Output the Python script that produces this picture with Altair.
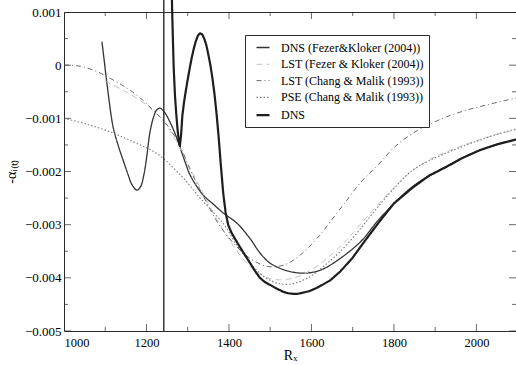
import altair as alt
import pandas as pd

SERIES = [
    "DNS (Fezer&Kloker (2004))",
    "LST (Fezer & Kloker (2004))",
    "LST (Chang & Malik (1993))",
    "PSE (Chang & Malik (1993))",
    "DNS",
]

# R_x positions and -alpha_i values (in units of 1e-3)
dns_fk_r = [1092, 1097, 1105, 1119, 1131, 1143, 1155, 1165, 1177, 1186, 1194, 1201, 1208, 1217,
            1225, 1233, 1245, 1257, 1270, 1281, 1295, 1306, 1337, 1360, 1386, 1419, 1450, 1475,
            1499, 1530, 1560, 1590, 1620, 1650, 1718, 1766, 1846, 1928, 2008, 2096]
dns_fk_v = [0.44, 0.12, -0.4, -1.16, -1.5, -1.78, -2.05, -2.25, -2.35, -2.28, -2.05, -1.7, -1.28, -0.98,
            -0.84, -0.81, -0.9, -1.07, -1.3, -1.54, -1.85, -2.07, -2.44, -2.6, -2.78, -2.97, -3.25, -3.53,
            -3.72, -3.84, -3.9, -3.91, -3.86, -3.74, -3.33, -2.88, -2.28, -1.9, -1.6, -1.39]

lst_fk_r = [1100, 1150, 1200, 1240, 1270, 1300, 1330, 1360, 1390, 1420, 1450, 1480, 1510, 1540,
            1570, 1600, 1640, 1680, 1720, 1766, 1800, 1846, 1890, 1928, 1970, 2008, 2050, 2096]
lst_fk_v = [-0.3, -0.5, -0.75, -1.05, -1.4, -1.85, -2.3, -2.75, -3.15, -3.5, -3.78, -3.95, -4.03, -4.03,
            -3.97, -3.85, -3.62, -3.33, -2.98, -2.58, -2.3, -1.98, -1.76, -1.63, -1.5, -1.4, -1.3, -1.22]

lst_cm_r = [1000, 1040, 1080, 1110, 1140, 1160, 1190, 1210, 1235, 1257, 1280, 1305, 1325, 1347,
            1370, 1400, 1430, 1460, 1490, 1515, 1540, 1565, 1590, 1620, 1645, 1680, 1720, 1766,
            1800, 1846, 1890, 1928, 1970, 2008, 2050, 2096]
lst_cm_v = [0.0, -0.02, -0.12, -0.24, -0.37, -0.47, -0.65, -0.8, -0.99, -1.2, -1.5, -1.95, -2.27, -2.6,
            -2.93, -3.25, -3.5, -3.68, -3.78, -3.79, -3.74, -3.62, -3.45, -3.2, -2.95, -2.6, -2.2, -1.84,
            -1.55, -1.28, -1.1, -0.97, -0.86, -0.78, -0.7, -0.62]

pse_cm_r = [1000, 1060, 1120, 1170, 1225, 1289, 1330, 1360, 1390, 1420, 1445, 1470, 1500, 1530,
            1560, 1596, 1630, 1660, 1700, 1735, 1766, 1800, 1846, 1890, 1928, 1970, 2008, 2050, 2096]
pse_cm_v = [-1.0, -1.12, -1.28, -1.45, -1.66, -2.12, -2.5, -2.75, -3.02, -3.4, -3.65, -3.88, -4.05, -4.12,
            -4.1, -3.98, -3.78, -3.58, -3.25, -2.92, -2.62, -2.32, -1.97, -1.78, -1.65, -1.52, -1.41, -1.3, -1.2]

dns_r = [1261, 1262, 1264, 1266, 1269, 1272, 1275, 1278, 1281, 1284, 1287, 1291, 1295,
         1300, 1305, 1310, 1315, 1320, 1325, 1330, 1335, 1340, 1345, 1350, 1355, 1360, 1365, 1370,
         1375, 1380, 1386, 1392, 1398, 1406, 1415, 1425, 1437, 1451, 1463, 1475, 1487, 1499, 1515,
         1531, 1543, 1555, 1567, 1579, 1595, 1610, 1627, 1645, 1670, 1700, 1730, 1766, 1800, 1846,
         1885, 1928, 1965, 2008, 2050, 2096]
dns_v = [1.6, 1.1, 0.5, -0.05, -0.56, -0.9, -1.18, -1.4, -1.52, -1.3, -0.95, -0.7, -0.5,
         -0.27, -0.05, 0.15, 0.32, 0.46, 0.56, 0.6, 0.58, 0.5, 0.38, 0.2, 0.0, -0.25, -0.55, -0.92,
         -1.35, -1.85, -2.4, -2.78, -3.0, -3.15, -3.27, -3.4, -3.55, -3.72, -3.87, -4.0, -4.08, -4.13, -4.2,
         -4.26, -4.29, -4.3, -4.3, -4.28, -4.25, -4.2, -4.13, -4.05, -3.88, -3.62, -3.3, -2.93, -2.6, -2.3,
         -2.08, -1.91, -1.75, -1.6, -1.49, -1.4]

# vertical jump of the DNS curve at its inflow (R_x, from, to in 1e-3)
jump_r = [1242]
jump_lo = [-5.0]
jump_hi = [1.6]

x_major = [1000, 1200, 1400, 1600, 1800, 2000]
x_minor = [1100, 1300, 1500, 1700, 1900]
y_major = [-0.005, -0.004, -0.003, -0.002, -0.001, 0.0, 0.001]
y_minor = [-0.0045, -0.0035, -0.0025, -0.0015, -0.0005, 0.0005]

rows = []
for name, rr, vv in zip(SERIES,
                        [dns_fk_r, lst_fk_r, lst_cm_r, pse_cm_r, dns_r],
                        [dns_fk_v, lst_fk_v, lst_cm_v, pse_cm_v, dns_v]):
    for i, (r, v) in enumerate(zip(rr, vv)):
        rows.append({"series": name, "R": r, "a": v * 1e-3, "i": i})
df = pd.DataFrame(rows)
jump_df = pd.DataFrame({"R": jump_r, "lo": [v * 1e-3 for v in jump_lo],
                        "hi": [v * 1e-3 for v in jump_hi]})

XMIN, XMAX = 1000, 2096
YMIN, YMAX = -0.005, 0.001
FONT = "Liberation Serif"
INK = "#2a2a2a"

xscale = alt.Scale(domain=[XMIN, XMAX], nice=False, zero=False)
yscale = alt.Scale(domain=[YMIN, YMAX], nice=False, zero=False)

leg = alt.Legend(
    title=None, orient="none", legendX=181, legendY=23,
    strokeColor=INK, fillColor="white", padding=5, symbolOffset=5,
    symbolType="stroke", symbolSize=169, labelOffset=10,
    labelFont=FONT, labelFontSize=12, labelColor="black", rowPadding=3.3,
)

colors = ["#333333", "#c4c4c4", "#6a6a6a", "#7a7a7a", "#1e1e1e"]
dashes = [[1, 0], [6, 4], [5, 3, 1, 3], [1.5, 2], [1, 0]]
widths = [1.3, 1.0, 1.0, 1.1, 2.2]

enc = dict(
    x=alt.X("R:Q", scale=xscale, axis=alt.Axis(
        values=x_major, format="d", ticks=False, tickSize=0, domain=False, grid=False,
        labelFont=FONT, labelFontSize=12.5, labelColor="black", labelPadding=5,
        title="Rₓ", titleFont=FONT, titleFontSize=14, titleFontWeight="normal",
        titleColor="black", titlePadding=0)),
    y=alt.Y("a:Q", scale=yscale, axis=alt.Axis(
        values=y_major, labelExpr="datum.value == 0 ? '0' : format(datum.value, '.3f')",
        ticks=False, tickSize=0, domain=False, grid=False,
        labelFont=FONT, labelFontSize=13, labelColor="black", labelPadding=3,
        title="-αᵢ₍ₜ₎", titleFont=FONT, titleFontSize=14, titleFontWeight="normal",
        titleColor="black", titlePadding=6)),
    color=alt.Color("series:N", scale=alt.Scale(domain=SERIES, range=colors), legend=leg),
    strokeDash=alt.StrokeDash("series:N", scale=alt.Scale(domain=SERIES, range=dashes), legend=leg),
    strokeWidth=alt.StrokeWidth("series:N", scale=alt.Scale(type="ordinal", domain=SERIES, range=widths), legend=leg),
    order=alt.Order("i:Q"),
)

smooth = alt.Chart(df).transform_filter(alt.datum.series != "DNS").mark_line(
    interpolate="catmull-rom").encode(**enc)
dns_line = alt.Chart(df).transform_filter(alt.datum.series == "DNS").mark_line(
    interpolate="linear", strokeJoin="round").encode(**enc)
jump = alt.Chart(jump_df).mark_rule(color="#2a2a2a", strokeWidth=1.4).encode(
    x=alt.X("R:Q", scale=xscale), y=alt.Y("lo:Q", scale=yscale), y2="hi:Q")


def xticks(vals, size, at):
    return alt.Chart(pd.DataFrame({"t": vals})).mark_tick(
        orient="vertical", size=size, thickness=1, color=INK, clip=True
    ).encode(x=alt.X("t:Q", scale=xscale), y=alt.datum(at))


def yticks(vals, size, at):
    return alt.Chart(pd.DataFrame({"t": vals})).mark_tick(
        orient="horizontal", size=size, thickness=1, color=INK, clip=True
    ).encode(y=alt.Y("t:Q", scale=yscale), x=alt.datum(at))


ticks = [
    xticks(x_major, 14, YMIN), xticks(x_minor, 8, YMIN),
    xticks(x_major, 14, YMAX), xticks(x_minor, 8, YMAX),
    yticks(y_major, 14, XMIN), yticks(y_minor, 8, XMIN),
    yticks(y_major, 14, XMAX), yticks(y_minor, 8, XMAX),
]

chart = alt.layer(smooth, dns_line, jump, *ticks).properties(
    width=452, height=319,
    autosize=alt.AutoSizeParams(type="none"),
    padding={"left": 64, "top": 12, "right": 0, "bottom": 34},
    background="white",
).configure(font=FONT).configure_view(stroke=INK, strokeWidth=1)

chart.save("out.html", embed_options={"renderer": "svg", "actions": False})
